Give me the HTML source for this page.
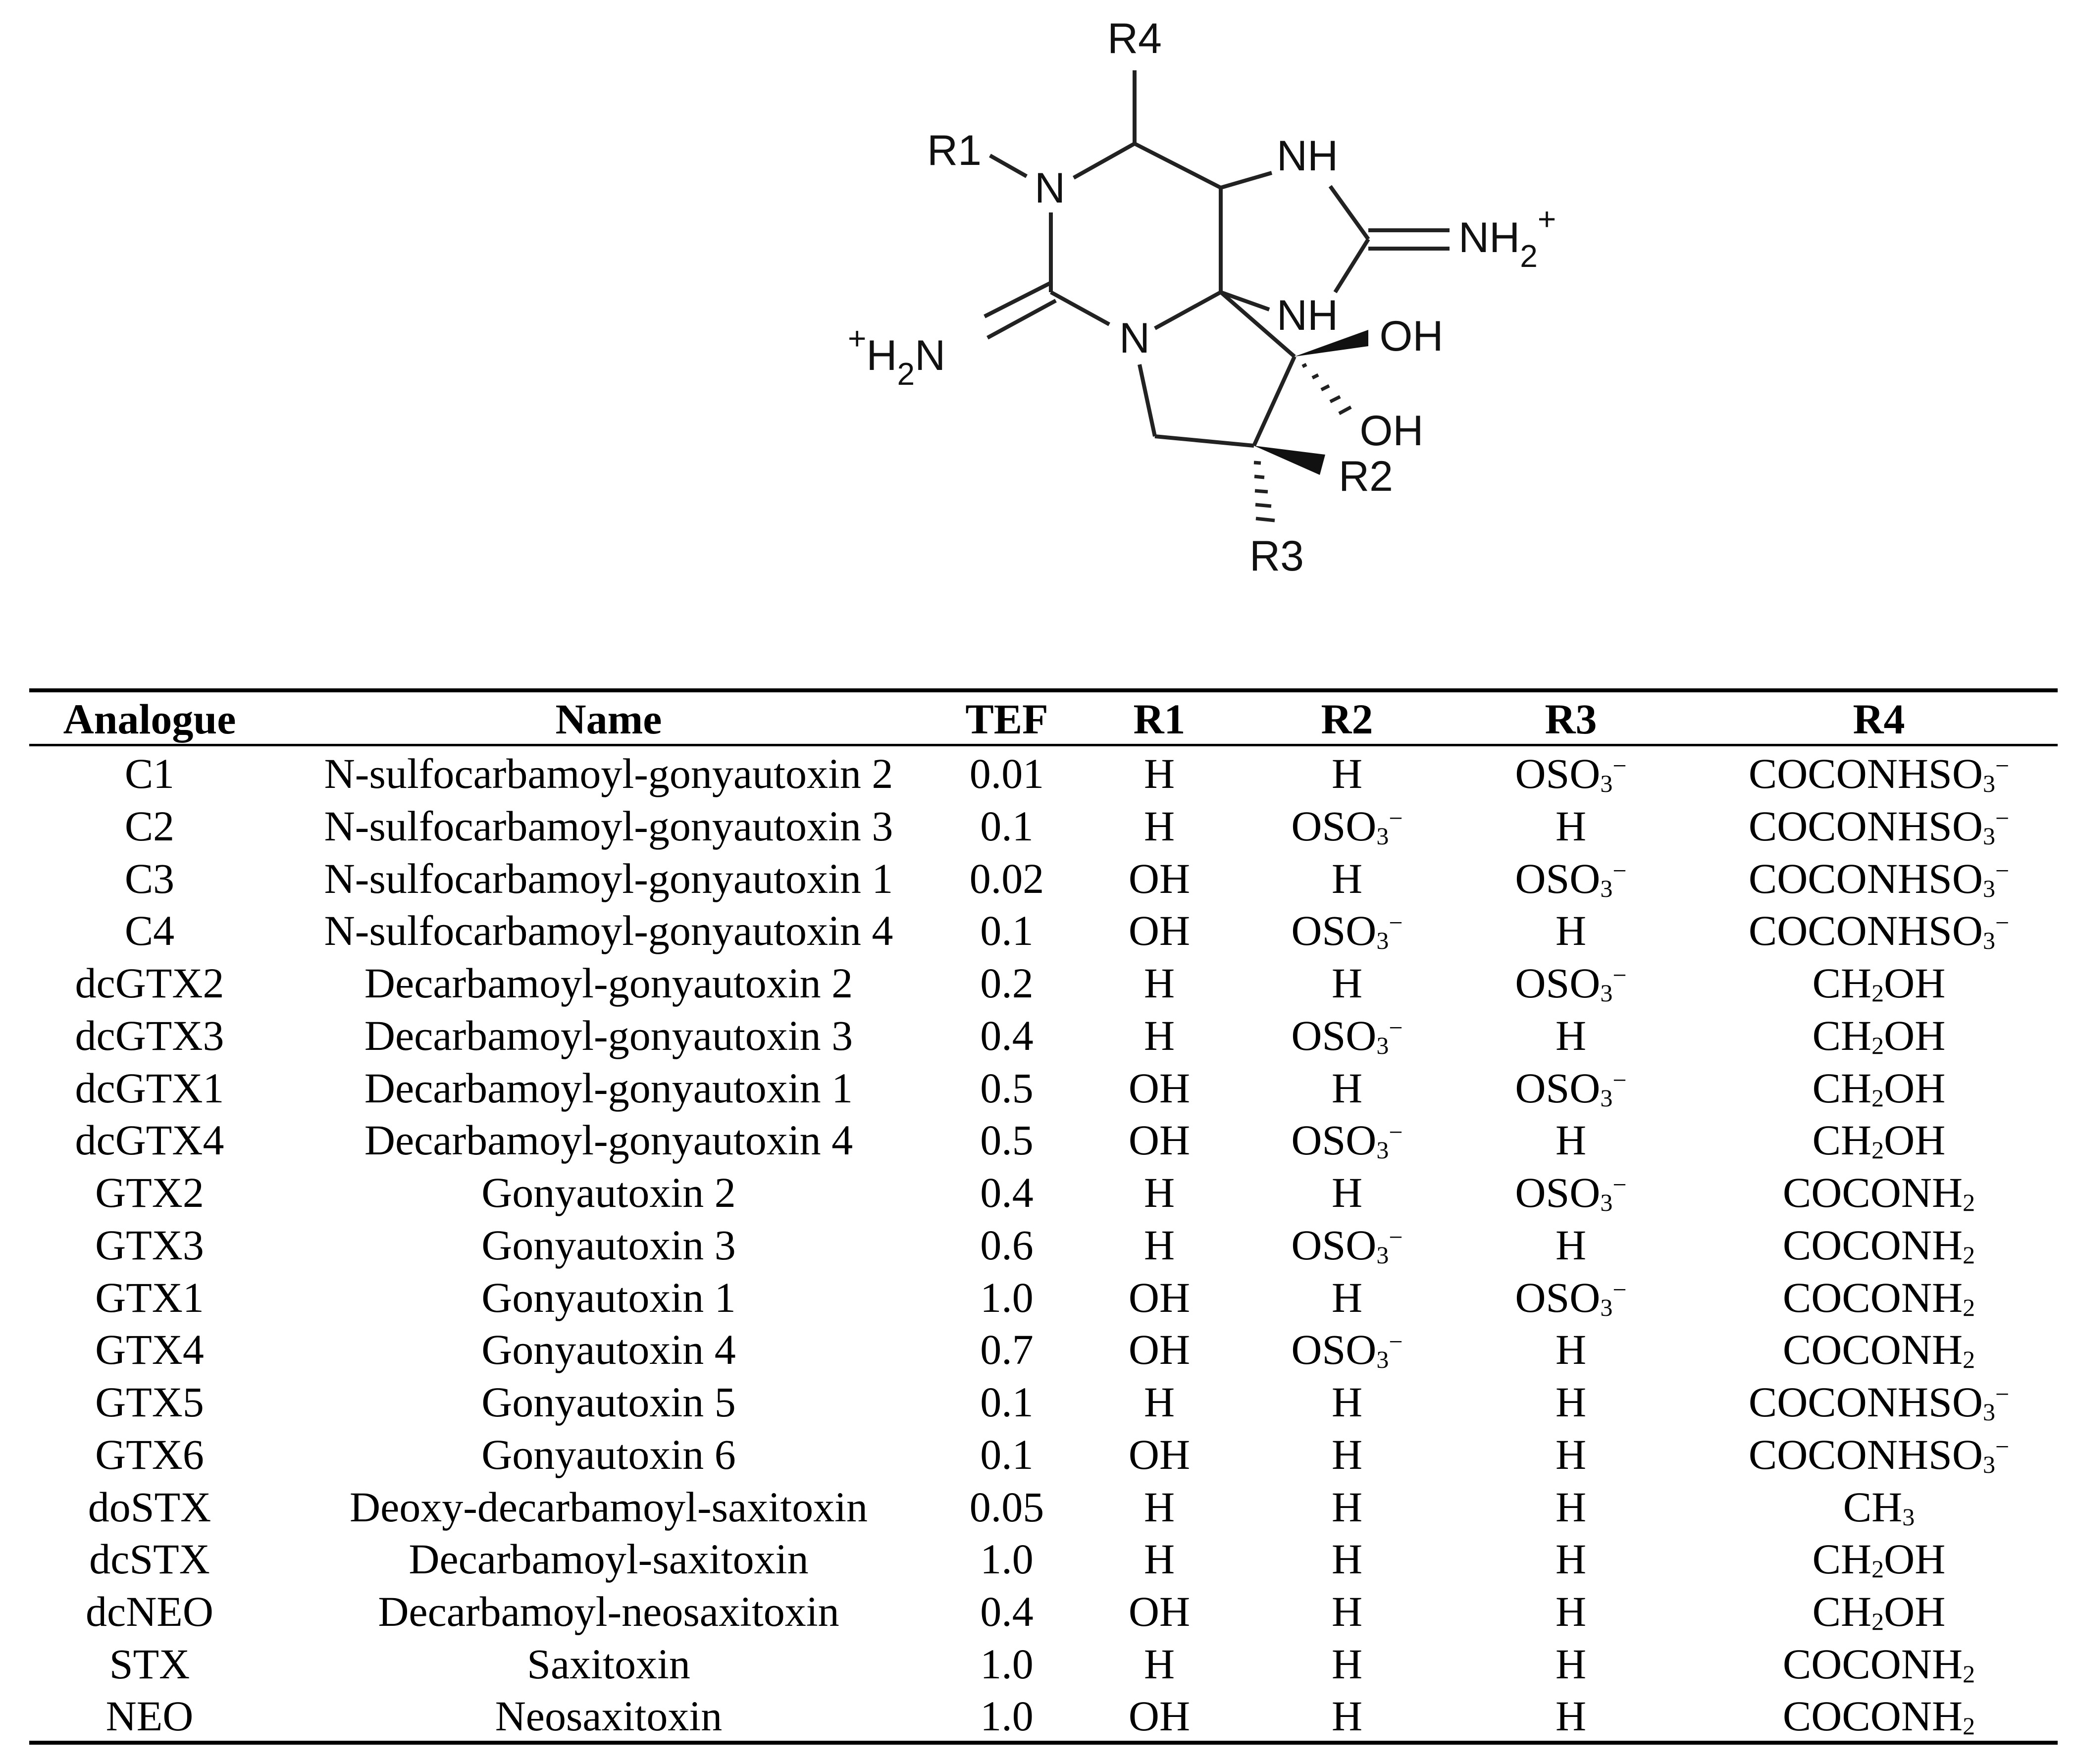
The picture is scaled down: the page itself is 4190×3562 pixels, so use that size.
<!DOCTYPE html>
<html><head><meta charset="utf-8"><style>
html,body{margin:0;padding:0;background:#fff;}
svg{display:block;}
.s{font-family:"Liberation Sans",sans-serif;font-size:86px;fill:#111;}
.t{font-family:"Liberation Serif",serif;font-size:86px;fill:#000;text-anchor:middle;}
.h{font-weight:bold;}
</style></head><body>
<svg width="4190" height="3562" viewBox="0 0 4190 3562" xmlns="http://www.w3.org/2000/svg">
<g stroke="#222" stroke-width="8" fill="none" stroke-linecap="butt">
<line x1="2291" y1="142" x2="2291" y2="290"/>
<line x1="2291" y1="290" x2="2168" y2="359"/>
<line x1="1999" y1="314" x2="2073" y2="356"/>
<line x1="2291" y1="290" x2="2465" y2="379"/>
<line x1="2465" y1="379" x2="2568" y2="349"/>
<line x1="2686" y1="376" x2="2763" y2="483"/>
<line x1="2763" y1="465" x2="2927" y2="465"/>
<line x1="2763" y1="502" x2="2927" y2="502"/>
<line x1="2763" y1="483" x2="2696" y2="590"/>
<line x1="2465" y1="379" x2="2465" y2="590"/>
<line x1="2465" y1="590" x2="2563" y2="625"/>
<line x1="2465" y1="590" x2="2332" y2="663"/>
<line x1="2122" y1="429" x2="2122" y2="590"/>
<line x1="2122" y1="590" x2="2240" y2="655"/>
<line x1="2122" y1="571" x2="1988" y2="639"/>
<line x1="2132" y1="607" x2="1994" y2="682"/>
<line x1="2465" y1="590" x2="2614" y2="720"/>
<line x1="2614" y1="720" x2="2532" y2="900"/>
<line x1="2532" y1="900" x2="2332" y2="881"/>
<line x1="2332" y1="881" x2="2301" y2="736"/>
</g>
<polygon points="2614,720 2763,666 2763,699" fill="#111"/>
<polygon points="2532,900 2676,918 2665,959" fill="#111"/>
<g stroke="#222" stroke-width="7">
<line x1="2630" y1="740" x2="2638" y2="736"/><line x1="2650" y1="763" x2="2662" y2="757"/><line x1="2668" y1="787" x2="2684" y2="779"/><line x1="2686" y1="811" x2="2706" y2="801"/><line x1="2704" y1="835" x2="2728" y2="822"/>
<line x1="2532" y1="934" x2="2546" y2="935"/><line x1="2533" y1="962" x2="2553" y2="964"/><line x1="2534" y1="991" x2="2560" y2="993"/><line x1="2535" y1="1019" x2="2567" y2="1022"/><line x1="2536" y1="1047" x2="2574" y2="1051"/>
</g>
<g class="s">
<text x="2291" y="107" text-anchor="middle">R4</text>
<text x="1927" y="333" text-anchor="middle">R1</text>
<text x="2120" y="409" text-anchor="middle">N</text>
<text x="2640" y="344" text-anchor="middle">NH</text>
<text x="2945" y="509">NH<tspan font-size="64" dy="30">2</tspan><tspan font-size="64" dy="-75">+</tspan></text>
<text x="2640" y="666" text-anchor="middle">NH</text>
<text x="2291" y="712" text-anchor="middle">N</text>
<text x="1712" y="747"><tspan font-size="64" dy="-42">+</tspan><tspan dy="42">H</tspan><tspan font-size="64" dy="30">2</tspan><tspan dy="-30">N</tspan></text>
<text x="2850" y="708" text-anchor="middle">OH</text>
<text x="2810" y="899" text-anchor="middle">OH</text>
<text x="2758" y="991" text-anchor="middle">R2</text>
<text x="2578" y="1152" text-anchor="middle">R3</text>
</g>
<rect x="59" y="1390" width="4096" height="8" fill="#000"/>
<rect x="59" y="1502" width="4096" height="5" fill="#000"/>
<rect x="59" y="3515" width="4096" height="8" fill="#000"/>
<g class="t h">
<text x="302" y="1481">Analogue</text><text x="1229" y="1481">Name</text><text x="2033" y="1481">TEF</text><text x="2341" y="1481">R1</text><text x="2720" y="1481">R2</text><text x="3172" y="1481">R3</text><text x="3794" y="1481">R4</text>
</g>
<g class="t">
<g transform="translate(0,1591)"><text x="302">C1</text><text x="1229">N-sulfocarbamoyl-gonyautoxin 2</text><text x="2033">0.01</text><text x="2341">H</text><text x="2720">H</text><text x="3172">OSO<tspan font-size="50" dy="8">3</tspan><tspan font-size="50" dy="-36">−</tspan></text><text x="3794">COCONHSO<tspan font-size="50" dy="8">3</tspan><tspan font-size="50" dy="-36">−</tspan></text></g>
<g transform="translate(0,1697)"><text x="302">C2</text><text x="1229">N-sulfocarbamoyl-gonyautoxin 3</text><text x="2033">0.1</text><text x="2341">H</text><text x="2720">OSO<tspan font-size="50" dy="8">3</tspan><tspan font-size="50" dy="-36">−</tspan></text><text x="3172">H</text><text x="3794">COCONHSO<tspan font-size="50" dy="8">3</tspan><tspan font-size="50" dy="-36">−</tspan></text></g>
<g transform="translate(0,1803)"><text x="302">C3</text><text x="1229">N-sulfocarbamoyl-gonyautoxin 1</text><text x="2033">0.02</text><text x="2341">OH</text><text x="2720">H</text><text x="3172">OSO<tspan font-size="50" dy="8">3</tspan><tspan font-size="50" dy="-36">−</tspan></text><text x="3794">COCONHSO<tspan font-size="50" dy="8">3</tspan><tspan font-size="50" dy="-36">−</tspan></text></g>
<g transform="translate(0,1908)"><text x="302">C4</text><text x="1229">N-sulfocarbamoyl-gonyautoxin 4</text><text x="2033">0.1</text><text x="2341">OH</text><text x="2720">OSO<tspan font-size="50" dy="8">3</tspan><tspan font-size="50" dy="-36">−</tspan></text><text x="3172">H</text><text x="3794">COCONHSO<tspan font-size="50" dy="8">3</tspan><tspan font-size="50" dy="-36">−</tspan></text></g>
<g transform="translate(0,2014)"><text x="302">dcGTX2</text><text x="1229">Decarbamoyl-gonyautoxin 2</text><text x="2033">0.2</text><text x="2341">H</text><text x="2720">H</text><text x="3172">OSO<tspan font-size="50" dy="8">3</tspan><tspan font-size="50" dy="-36">−</tspan></text><text x="3794">CH<tspan font-size="50" dy="8">2</tspan><tspan dy="-8">OH</tspan></text></g>
<g transform="translate(0,2120)"><text x="302">dcGTX3</text><text x="1229">Decarbamoyl-gonyautoxin 3</text><text x="2033">0.4</text><text x="2341">H</text><text x="2720">OSO<tspan font-size="50" dy="8">3</tspan><tspan font-size="50" dy="-36">−</tspan></text><text x="3172">H</text><text x="3794">CH<tspan font-size="50" dy="8">2</tspan><tspan dy="-8">OH</tspan></text></g>
<g transform="translate(0,2226)"><text x="302">dcGTX1</text><text x="1229">Decarbamoyl-gonyautoxin 1</text><text x="2033">0.5</text><text x="2341">OH</text><text x="2720">H</text><text x="3172">OSO<tspan font-size="50" dy="8">3</tspan><tspan font-size="50" dy="-36">−</tspan></text><text x="3794">CH<tspan font-size="50" dy="8">2</tspan><tspan dy="-8">OH</tspan></text></g>
<g transform="translate(0,2331)"><text x="302">dcGTX4</text><text x="1229">Decarbamoyl-gonyautoxin 4</text><text x="2033">0.5</text><text x="2341">OH</text><text x="2720">OSO<tspan font-size="50" dy="8">3</tspan><tspan font-size="50" dy="-36">−</tspan></text><text x="3172">H</text><text x="3794">CH<tspan font-size="50" dy="8">2</tspan><tspan dy="-8">OH</tspan></text></g>
<g transform="translate(0,2437)"><text x="302">GTX2</text><text x="1229">Gonyautoxin 2</text><text x="2033">0.4</text><text x="2341">H</text><text x="2720">H</text><text x="3172">OSO<tspan font-size="50" dy="8">3</tspan><tspan font-size="50" dy="-36">−</tspan></text><text x="3794">COCONH<tspan font-size="50" dy="8">2</tspan></text></g>
<g transform="translate(0,2543)"><text x="302">GTX3</text><text x="1229">Gonyautoxin 3</text><text x="2033">0.6</text><text x="2341">H</text><text x="2720">OSO<tspan font-size="50" dy="8">3</tspan><tspan font-size="50" dy="-36">−</tspan></text><text x="3172">H</text><text x="3794">COCONH<tspan font-size="50" dy="8">2</tspan></text></g>
<g transform="translate(0,2649)"><text x="302">GTX1</text><text x="1229">Gonyautoxin 1</text><text x="2033">1.0</text><text x="2341">OH</text><text x="2720">H</text><text x="3172">OSO<tspan font-size="50" dy="8">3</tspan><tspan font-size="50" dy="-36">−</tspan></text><text x="3794">COCONH<tspan font-size="50" dy="8">2</tspan></text></g>
<g transform="translate(0,2754)"><text x="302">GTX4</text><text x="1229">Gonyautoxin 4</text><text x="2033">0.7</text><text x="2341">OH</text><text x="2720">OSO<tspan font-size="50" dy="8">3</tspan><tspan font-size="50" dy="-36">−</tspan></text><text x="3172">H</text><text x="3794">COCONH<tspan font-size="50" dy="8">2</tspan></text></g>
<g transform="translate(0,2860)"><text x="302">GTX5</text><text x="1229">Gonyautoxin 5</text><text x="2033">0.1</text><text x="2341">H</text><text x="2720">H</text><text x="3172">H</text><text x="3794">COCONHSO<tspan font-size="50" dy="8">3</tspan><tspan font-size="50" dy="-36">−</tspan></text></g>
<g transform="translate(0,2966)"><text x="302">GTX6</text><text x="1229">Gonyautoxin 6</text><text x="2033">0.1</text><text x="2341">OH</text><text x="2720">H</text><text x="3172">H</text><text x="3794">COCONHSO<tspan font-size="50" dy="8">3</tspan><tspan font-size="50" dy="-36">−</tspan></text></g>
<g transform="translate(0,3072)"><text x="302">doSTX</text><text x="1229">Deoxy-decarbamoyl-saxitoxin</text><text x="2033">0.05</text><text x="2341">H</text><text x="2720">H</text><text x="3172">H</text><text x="3794">CH<tspan font-size="50" dy="8">3</tspan></text></g>
<g transform="translate(0,3177)"><text x="302">dcSTX</text><text x="1229">Decarbamoyl-saxitoxin</text><text x="2033">1.0</text><text x="2341">H</text><text x="2720">H</text><text x="3172">H</text><text x="3794">CH<tspan font-size="50" dy="8">2</tspan><tspan dy="-8">OH</tspan></text></g>
<g transform="translate(0,3283)"><text x="302">dcNEO</text><text x="1229">Decarbamoyl-neosaxitoxin</text><text x="2033">0.4</text><text x="2341">OH</text><text x="2720">H</text><text x="3172">H</text><text x="3794">CH<tspan font-size="50" dy="8">2</tspan><tspan dy="-8">OH</tspan></text></g>
<g transform="translate(0,3389)"><text x="302">STX</text><text x="1229">Saxitoxin</text><text x="2033">1.0</text><text x="2341">H</text><text x="2720">H</text><text x="3172">H</text><text x="3794">COCONH<tspan font-size="50" dy="8">2</tspan></text></g>
<g transform="translate(0,3494)"><text x="302">NEO</text><text x="1229">Neosaxitoxin</text><text x="2033">1.0</text><text x="2341">OH</text><text x="2720">H</text><text x="3172">H</text><text x="3794">COCONH<tspan font-size="50" dy="8">2</tspan></text></g>
</g>
</svg>
</body></html>
